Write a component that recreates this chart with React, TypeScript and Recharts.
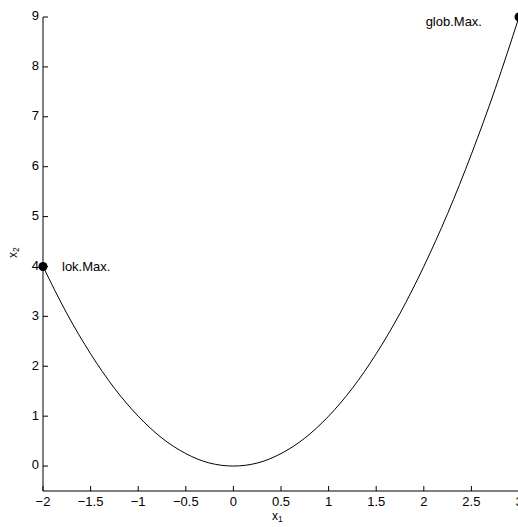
import { ComposedChart, Line, Scatter, XAxis, YAxis } from 'recharts';

// curve samples
const xValues = [-2, -1.75, -1.5, -1.25, -1, -0.75, -0.5, -0.25, 0, 0.25, 0.5, 0.75, 1, 1.25, 1.5, 1.75, 2, 2.25, 2.5, 2.75, 3];
const yValues = [4, 3.06, 2.25, 1.56, 1, 0.56, 0.25, 0.06, 0, 0.06, 0.25, 0.56, 1, 1.56, 2.25, 3.06, 4, 5.06, 6.25, 7.56, 9];

// marked extrema
const pointX = [-2, 3];
const pointY = [4, 9];
const pointLabels = ['lok.Max.', 'glob.Max.'];

const xTicks = [-2, -1.5, -1, -0.5, 0, 0.5, 1, 1.5, 2, 2.5, 3];
const yTicks = [0, 1, 2, 3, 4, 5, 6, 7, 8, 9];

const curve = xValues.map((x, i) => ({ x, y: yValues[i] }));
const points = pointX.map((x, i) => ({ x, y: pointY[i], label: pointLabels[i] }));

const FONT = '"Liberation Sans", Arial, Helvetica, sans-serif';
const FS = 13;

const fmt = (v: number) => String(v).replace('-', '\u2212');

// recharts hands the text anchor (axis + 8px), ticks are drawn inward from the axis
function XTick(props: any) {
  const { x, y, payload } = props;
  const axisY = y - 8;
  return (
    <g>
      <line x1={x} y1={axisY} x2={x} y2={axisY - 5} stroke="#000" strokeWidth={1} />
      <text x={x} y={axisY + 12} textAnchor="middle" dominantBaseline="middle" fontSize={FS} fill="#000" fontFamily={FONT}>
        {fmt(payload.value)}
      </text>
    </g>
  );
}

function YTick(props: any) {
  const { x, y, payload } = props;
  const axisX = x + 8;
  return (
    <g>
      <line x1={axisX} y1={y} x2={axisX + 5} y2={y} stroke="#000" strokeWidth={1} />
      <text x={axisX - 4} y={y} textAnchor="end" dominantBaseline="middle" fontSize={FS} fill="#000" fontFamily={FONT}>
        {fmt(payload.value)}
      </text>
    </g>
  );
}

function MaxPoint(props: any) {
  const { cx, cy, payload } = props;
  const left = payload.x > 0;
  return (
    <g>
      <circle cx={cx} cy={cy} r={4.5} fill="#000" />
      <text
        x={left ? cx - 37 : cx + 19}
        y={left ? cy + 6 : cy + 1}
        textAnchor={left ? 'end' : 'start'}
        dominantBaseline="middle"
        fontSize={FS}
        fill="#000"
        fontFamily={FONT}
      >
        {payload.label}
      </text>
    </g>
  );
}

export default function App() {
  return (
    <div style={{ position: 'absolute', left: 0, top: 0, width: 518, height: 527, overflow: 'hidden', background: '#fff' }}>
      <ComposedChart width={520} height={527} margin={{ top: 17, right: 1, bottom: 0, left: 0 }}>
        <XAxis
          dataKey="x"
          type="number"
          domain={[-2, 3]}
          ticks={xTicks}
          tickLine={false}
          tick={<XTick />}
          stroke="#000"
          height={36}
          interval={0}
        />
        <YAxis
          dataKey="y"
          type="number"
          domain={[-0.5, 9]}
          ticks={yTicks}
          tickLine={false}
          tick={<YTick />}
          stroke="#000"
          width={43}
          interval={0}
        />
        <Line
          data={curve}
          dataKey="y"
          type="monotone"
          stroke="#000"
          strokeWidth={1}
          dot={false}
          isAnimationActive={false}
        />
        <Scatter data={points} dataKey="y" shape={<MaxPoint />} isAnimationActive={false} />
      </ComposedChart>
      <svg width={518} height={527} style={{ position: 'absolute', left: 0, top: 0, pointerEvents: 'none' }}>
        <text x={272} y={517} dominantBaseline="middle" fontSize={12} fontFamily={FONT} fill="#000">
          x<tspan fontSize={8.5} dy={3}>1</tspan>
        </text>
        <text
          x={0}
          y={0}
          transform="translate(14 258) rotate(-90)"
          dominantBaseline="middle"
          fontSize={12}
          fontFamily={FONT}
          fill="#000"
        >
          x<tspan fontSize={8.5} dy={3}>2</tspan>
        </text>
      </svg>
    </div>
  );
}
